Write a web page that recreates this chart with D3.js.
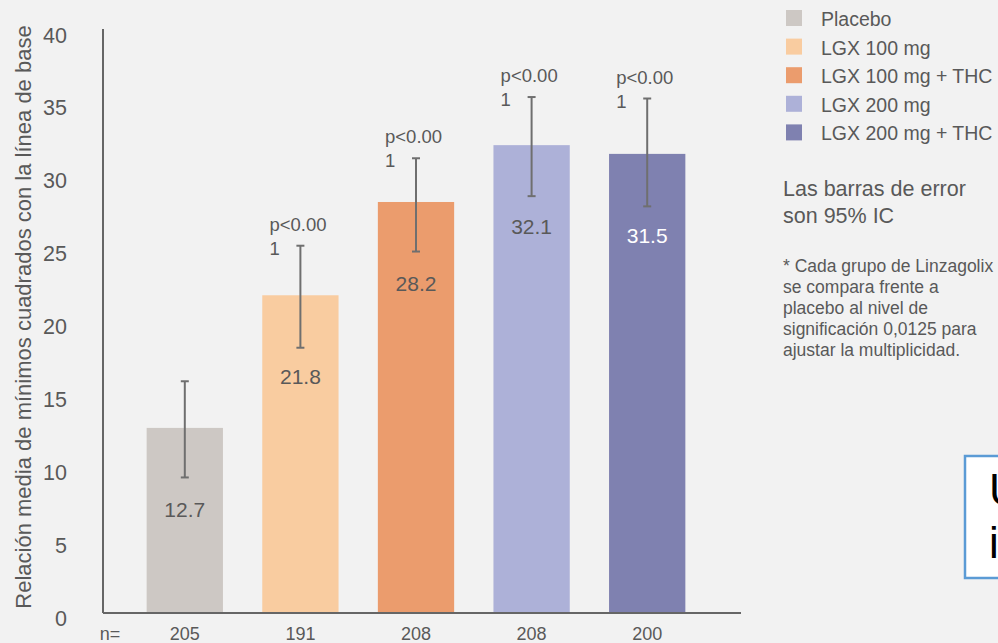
<!DOCTYPE html>
<html>
<head>
<meta charset="utf-8">
<script src="https://cdn.jsdelivr.net/npm/d3@7"></script>
<style>
  html, body { margin: 0; padding: 0; background: #f2f2f2; }
  svg { display: block; font-family: "Liberation Sans", Arial, sans-serif; }
</style>
</head>
<body>
<svg id="chart" width="998" height="643"></svg>
<script>
// ---- data ----
const categories = ["Placebo", "LGX 100 mg", "LGX 100 mg + THC", "LGX 200 mg", "LGX 200 mg + THC"];
const values = [12.7, 21.8, 28.2, 32.1, 31.5];
const errLow = [9.3, 18.2, 24.8, 28.6, 27.9];
const errHigh = [15.9, 25.2, 31.2, 35.4, 35.3];
const nValues = [205, 191, 208, 208, 200];
const pLabels = [null, ["p<0.00", "1"], ["p<0.00", "1"], ["p<0.00", "1"], ["p<0.00", "1"]];
const colors = ["#cdc8c4", "#f9cca0", "#eb9c6d", "#adb1d8", "#7f81b0"];
const valueLabelColors = ["#595959", "#595959", "#595959", "#595959", "#ffffff"];
const yTicks = [0, 5, 10, 15, 20, 25, 30, 35, 40];
const yTitle = "Relación media de mínimos cuadrados con la línea de base";
const noteLines = ["Las barras de error", "son 95% IC"];
const footLines = ["* Cada grupo de Linzagolix", "se compara frente a", "placebo al nivel de", "significación 0,0125 para", "ajustar la multiplicidad."];
const boxLines = ["U", "i"];

// ---- layout ----
const plotLeft = 103, plotRight = 741, plotTop = 30, plotBottom = 613;
const textColor = "#595959";

const svg = d3.select("#chart");
svg.append("rect").attr("width", 998).attr("height", 643).attr("fill", "#f2f2f2");

const x = d3.scaleBand().domain(categories).range([plotLeft + 24, plotRight - 36]).paddingInner(0.34).paddingOuter(0.17);
const y = d3.scaleLinear().domain([0, 40]).range([plotBottom, plotTop]);

// y axis
const yAxis = svg.append("g").attr("transform", `translate(${plotLeft},0)`)
  .call(d3.axisLeft(y).tickValues(yTicks).tickSize(0).tickPadding(36));
yAxis.select(".domain").attr("stroke", "#666").attr("stroke-width", 2).attr("d", `M0,${plotTop - 1}V${plotBottom}`);
yAxis.selectAll("text").attr("font-size", 21.5).attr("fill", textColor)
  .attr("font-family", "Liberation Sans, Arial, sans-serif").attr("dy", "0.56em");

// y title
svg.append("text")
  .attr("transform", `translate(31,${(27 + 607) / 2}) rotate(-90)`)
  .attr("text-anchor", "middle").attr("font-size", 22).attr("fill", textColor)
  .text(yTitle);

// bars
svg.append("g").selectAll("rect").data(categories).join("rect")
  .attr("x", d => x(d)).attr("width", x.bandwidth())
  .attr("y", (d, i) => y(values[i])).attr("height", (d, i) => y(0) - y(values[i]))
  .attr("fill", (d, i) => colors[i]);

// x axis line
svg.append("line").attr("x1", plotLeft).attr("x2", plotRight).attr("y1", plotBottom).attr("y2", plotBottom)
  .attr("stroke", "#666").attr("stroke-width", 2);

// n labels
svg.append("text").attr("x", 110).attr("y", 640).attr("text-anchor", "middle")
  .attr("font-size", 18).attr("fill", textColor).text("n=");
svg.append("g").selectAll("text").data(categories).join("text")
  .attr("x", d => x(d) + x.bandwidth() / 2).attr("y", 640).attr("text-anchor", "middle")
  .attr("font-size", 18).attr("fill", textColor).text((d, i) => nValues[i]);

// error bars
const eg = svg.append("g").attr("stroke", "#6f6f6f").attr("stroke-width", 2);
categories.forEach((c, i) => {
  const cx = x(c) + x.bandwidth() / 2;
  eg.append("line").attr("x1", cx).attr("x2", cx).attr("y1", y(errLow[i])).attr("y2", y(errHigh[i]));
  eg.append("line").attr("x1", cx - 4).attr("x2", cx + 4).attr("y1", y(errLow[i])).attr("y2", y(errLow[i]));
  eg.append("line").attr("x1", cx - 4).attr("x2", cx + 4).attr("y1", y(errHigh[i])).attr("y2", y(errHigh[i]));
});

// value labels
svg.append("g").selectAll("text").data(categories).join("text")
  .attr("x", d => x(d) + x.bandwidth() / 2)
  .attr("y", (d, i) => y(values[i] - 5.6) + 7.5)
  .attr("text-anchor", "middle").attr("font-size", 21).attr("fill", (d, i) => valueLabelColors[i])
  .text((d, i) => values[i].toFixed(1));

// p labels
categories.forEach((c, i) => {
  if (!pLabels[i]) return;
  const t = svg.append("text").attr("font-size", 18.5).attr("fill", textColor);
  const lx = x(c) + x.bandwidth() / 2 - 31;
  t.append("tspan").attr("x", lx).attr("y", y(errHigh[i]) - 15).text(pLabels[i][0]);
  t.append("tspan").attr("x", lx).attr("y", y(errHigh[i]) + 9).text(pLabels[i][1]);
});

// legend
const lg = svg.append("g");
categories.forEach((c, i) => {
  const cy = 19 + i * 28.6;
  lg.append("rect").attr("x", 786).attr("y", cy - 9).attr("width", 16).attr("height", 16).attr("fill", colors[i]);
  lg.append("text").attr("x", 821).attr("y", cy + 7).attr("font-size", 19.5).attr("fill", textColor).text(c);
});

// notes
noteLines.forEach((s, i) => {
  svg.append("text").attr("x", 783).attr("y", 196 + i * 27).attr("font-size", 21.5).attr("fill", textColor).text(s);
});
footLines.forEach((s, i) => {
  svg.append("text").attr("x", 783).attr("y", 272 + i * 21).attr("font-size", 17.5).attr("fill", textColor).text(s);
});

// partially visible text box at bottom right
svg.append("rect").attr("x", 965).attr("y", 456).attr("width", 60).attr("height", 122)
  .attr("fill", "#ffffff").attr("stroke", "#5b9bd5").attr("stroke-width", 2.5);
boxLines.forEach((s, i) => {
  svg.append("text").attr("x", 989).attr("y", 505 + i * 53).attr("font-size", 44).attr("fill", "#000")
    .attr("font-family", "Liberation Sans, Arial, sans-serif").text(s);
});
</script>
</body>
</html>
